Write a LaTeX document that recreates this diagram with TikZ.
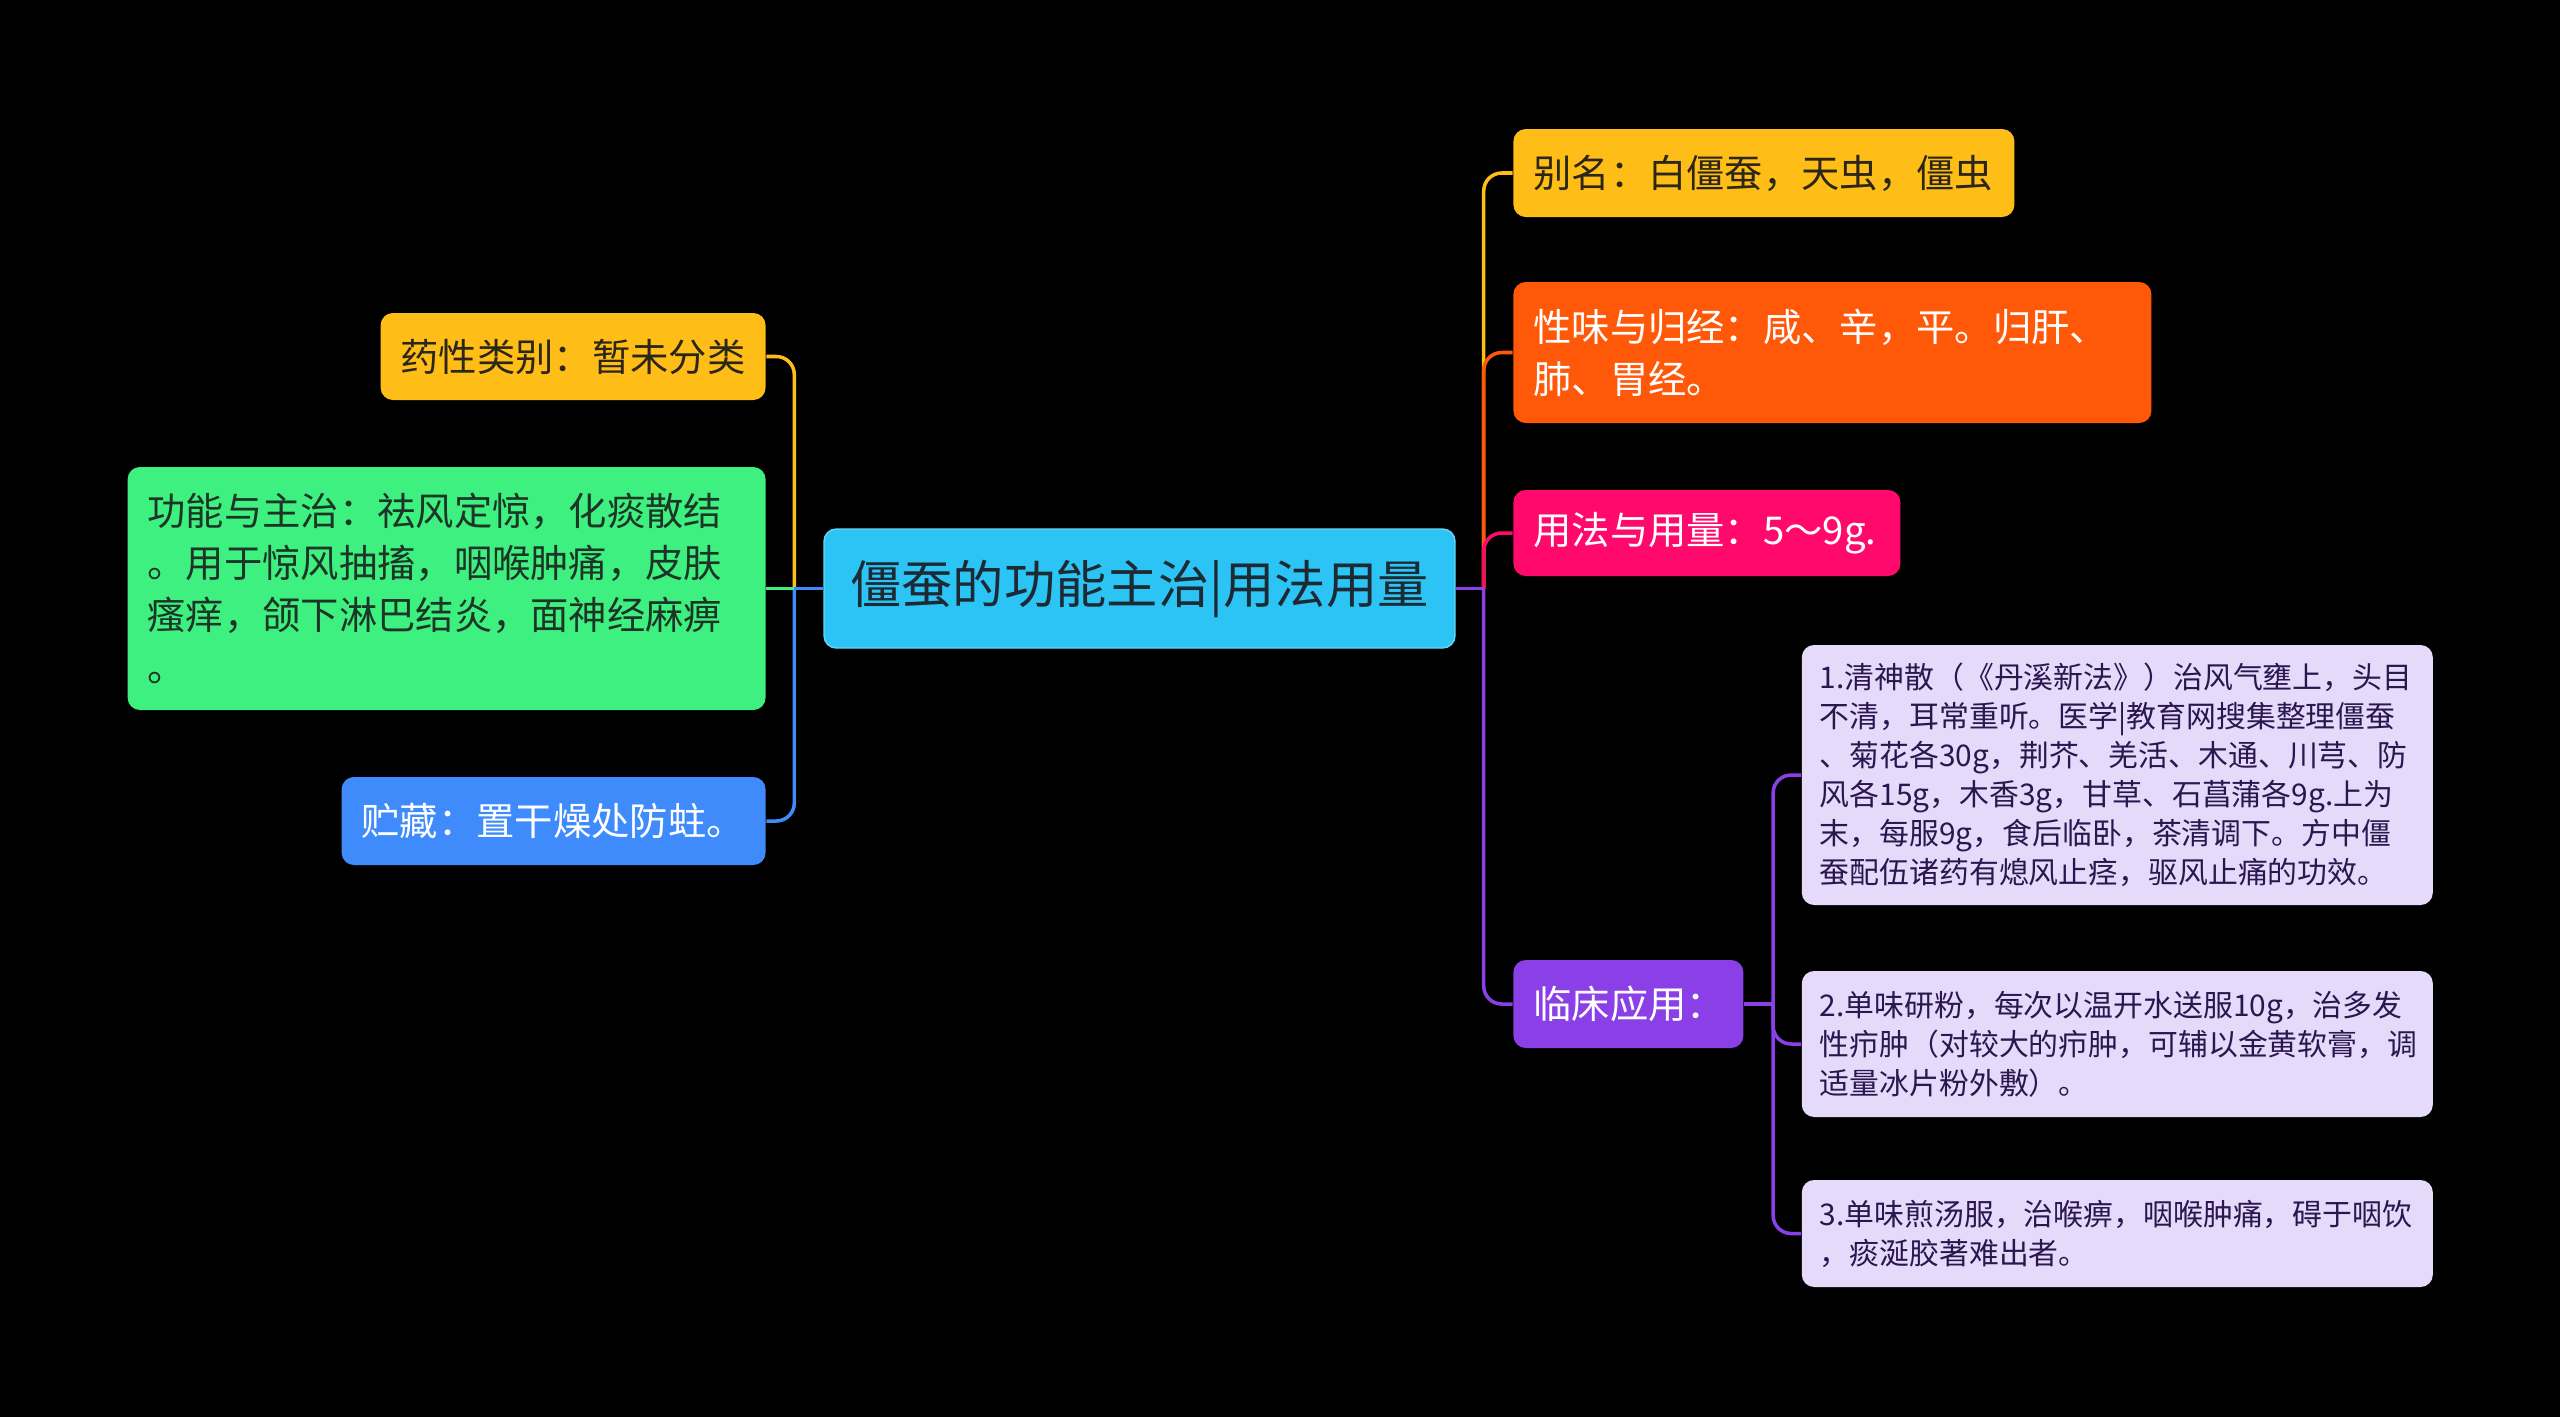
\documentclass[tikz,border=0pt]{standalone}
\usepackage{fontspec}
\setmainfont{Noto Sans CJK SC}
\usepackage{xcolor}
\usetikzlibrary{positioning}
\definecolor{sky}{HTML}{2CC4F5}
\definecolor{skyline}{HTML}{62D6F8}
\definecolor{amber}{HTML}{FFBD17}
\definecolor{mint}{HTML}{3DF07F}
\definecolor{azure}{HTML}{3F8BFB}
\definecolor{tangerine}{HTML}{FF5808}
\definecolor{rose}{HTML}{FF0A6C}
\definecolor{violet}{HTML}{8A40E6}
\definecolor{lilac}{HTML}{E6DAFA}
\definecolor{ink}{HTML}{1E2A33}
\definecolor{soot}{HTML}{2B2616}
\definecolor{moss}{HTML}{1C3526}
\definecolor{plum}{HTML}{2A174F}

\begin{document}
\begin{tikzpicture}[
  rootblk/.style={fill=sky,draw=skyline,rounded corners=3.5pt,text=ink,font=\fontsize{14.6pt}{18pt}\selectfont,minimum width=6.31cm,minimum height=1.19cm,inner sep=0pt},
  topicblk/.style={rounded corners=3.5pt,inner xsep=0.2cm,inner ysep=0pt,align=left,font=\fontsize{10.9pt}{14.8pt}\selectfont},
  itemblk/.style={fill=lilac,rounded corners=3.5pt,inner xsep=0.18cm,inner ysep=0pt,align=left,text=plum,text width=5.95cm,font=\fontsize{8.5pt}{11.1pt}\selectfont},
  link/.style={line width=1pt,rounded corners=0.18cm}
]
% canvas
\fill[black] (0,0) rectangle (25.6,-14.17);
% root
\node[rootblk] (root) at (11.395,-5.885) {僵蚕的功能主治|用法用量};
% right topics
\node[topicblk,fill=amber,text=soot,text width=4.61cm,minimum height=0.88cm,right=0.57cm of root,yshift=4.155cm] (alias) {别名：白僵蚕，天虫，僵虫};
\node[topicblk,fill=tangerine,text=white,text width=5.98cm,minimum height=1.41cm,right=0.57cm of root,yshift=2.36cm] (taste) {性味与归经：咸、辛，平。归肝、\\肺、胃经。};
\node[topicblk,fill=rose,text=white,text width=3.47cm,minimum height=0.86cm,right=0.57cm of root,yshift=0.555cm] (dose) {用法与用量：5～9g.};
\node[topicblk,fill=violet,text=white,text width=1.90cm,minimum height=0.88cm,right=0.57cm of root,yshift=-4.155cm] (clinic) {临床应用：};
% clinical uses
\node[itemblk,minimum height=2.60cm,right=0.57cm of clinic,yshift=2.29cm] (use1) {1.清神散（《丹溪新法》）治风气壅上，头目\\不清，耳常重听。医学|教育网搜集整理僵蚕\\、菊花各30g，荆芥、羌活、木通、川芎、防\\风各15g，木香3g，甘草、石菖蒲各9g.上为\\末，每服9g，食后临卧，茶清调下。方中僵\\蚕配伍诸药有熄风止痉，驱风止痛的功效。};
\node[itemblk,minimum height=1.46cm,right=0.57cm of clinic,yshift=-0.40cm] (use2) {2.单味研粉，每次以温开水送服10g，治多发\\性疖肿（对较大的疖肿，可辅以金黄软膏，调\\适量冰片粉外敷）。};
\node[itemblk,minimum height=1.07cm,right=0.57cm of clinic,yshift=-2.295cm] (use3) {3.单味煎汤服，治喉痹，咽喉肿痛，碍于咽饮\\，痰涎胶著难出者。};
% left topics
\node[topicblk,fill=amber,text=soot,text width=3.45cm,minimum height=0.87cm,left=0.57cm of root,yshift=2.32cm] (kind) {药性类别：暂未分类};
\node[topicblk,fill=mint,text=moss,text width=5.98cm,minimum height=2.43cm,left=0.57cm of root] (effect) {功能与主治：祛风定惊，化痰散结\\。用于惊风抽搐，咽喉肿痛，皮肤\\瘙痒，颌下淋巴结炎，面神经麻痹\\。};
\node[topicblk,fill=azure,text=white,text width=3.84cm,minimum height=0.88cm,left=0.57cm of root,yshift=-2.325cm] (store) {贮藏：置干燥处防蛀。};
% junctions
\coordinate[right=0.28cm of root] (jr);
\coordinate[left=0.29cm of root] (jl);
\coordinate[right=0.29cm of clinic] (jc);
% right links
\draw[link,amber] (jr) |- (alias.west);
\draw[link,tangerine] (jr) |- (taste.west);
\draw[link,rose] (jr) |- (dose.west);
\draw[link,violet] (jr) |- (clinic.west);
\draw[link,violet] (root.east) -- (jr);
% left links
\draw[link,amber] (jl) |- (kind.east);
\draw[link,azure] (jl) |- (store.east);
\draw[link,mint] (jl) -- (effect.east);
\draw[link,azure] (root.west) -- (jl);
% use links
\draw[link,violet] (clinic.east) -- (jc);
\draw[link,violet] (jc) |- (use1.west);
\draw[link,violet] (jc) |- (use2.west);
\draw[link,violet] (jc) |- (use3.west);
\end{tikzpicture}
\end{document}
